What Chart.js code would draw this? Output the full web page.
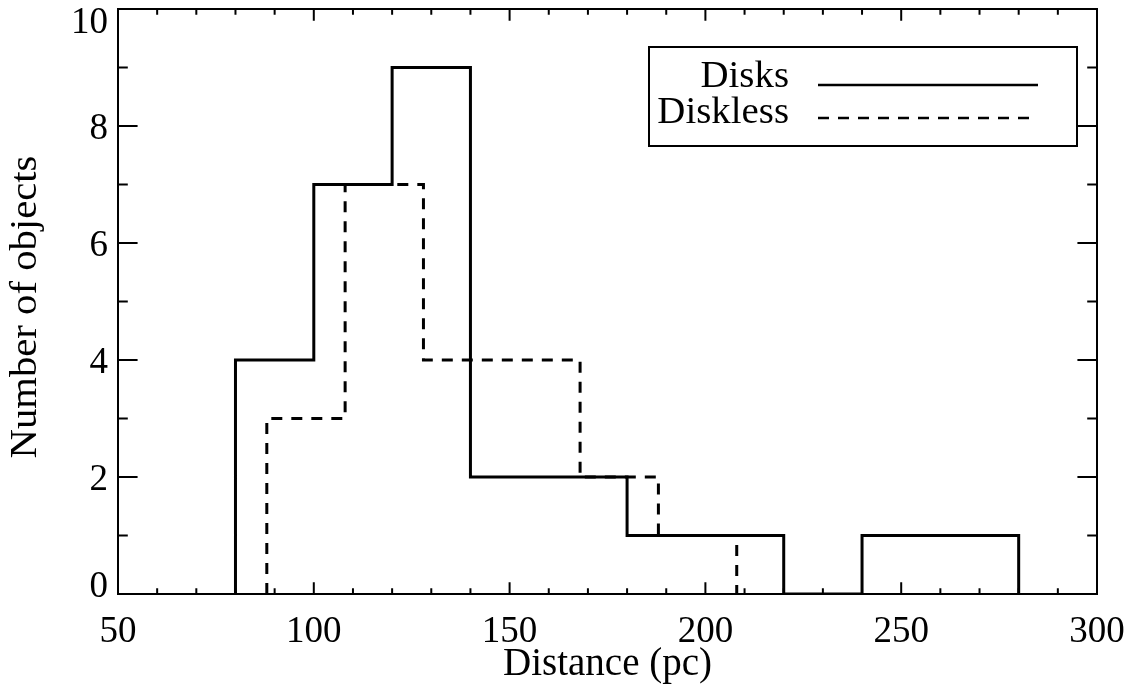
<!DOCTYPE html>
<html>
<head>
<meta charset="utf-8">
<script src="https://cdn.jsdelivr.net/npm/chart.js@4"></script>
<style>
body{margin:0;background:#fff;}
</style>
</head>
<body>
<canvas id="histChart" width="1140" height="694"></canvas>
<script>
//Data - left edge of each bin and the count in it
const binWidth = 20;
const diskEdges = [80,100,120,140,160,180,200,220,240,260];
const diskCounts = [4,7,9,2,2,1,1,0,1,1];
const disklessEdges = [88,108,128,148,168,188];
const disklessCounts = [3,7,4,4,2,1];

//Axes
const xTicks = [50,100,150,200,250,300];
const yTicks = [0,2,4,6,8,10];
const xMinorStep = 10;
const yMinorStep = 1;
const seriesNames = ['Disks','Diskless'];
const xTitle = 'Distance (pc)';
const yTitle = 'Number of objects';

const serif = "'Liberation Serif','Times New Roman',serif";

// turns bins into the outline of a histogram (stepped line)
const histPoints = (edges, counts) => {
    let pts = [{x: edges[0], y: 0}];
    for(let i=0;i<edges.length;i++){
        pts.push({x: edges[i], y: counts[i]});
    }
    pts.push({x: edges[edges.length-1]+binWidth, y: 0});
    return pts;
}

// box + inward ticks on all four sides, IDL style
const frameTicks = {
    id:'frameTicks',
    afterDatasetsDraw(chart){
        const {ctx, chartArea:a, scales} = chart;
        const x = scales.x, y = scales.y;
        const xLen = 0.02*(a.bottom-a.top);
        const yLen = 0.02*(a.right-a.left);
        ctx.save();
        ctx.strokeStyle = '#000';
        ctx.lineWidth = 2;
        ctx.strokeRect(a.left, a.top, a.right-a.left, a.bottom-a.top);
        ctx.beginPath();
        for(let v=x.min; v<=x.max; v+=xMinorStep){
            const px = x.getPixelForValue(v);
            const len = xTicks.includes(v) ? xLen : xLen/2;
            ctx.moveTo(px, a.bottom); ctx.lineTo(px, a.bottom-len);
            ctx.moveTo(px, a.top); ctx.lineTo(px, a.top+len);
        }
        for(let v=y.min; v<=y.max; v+=yMinorStep){
            const py = y.getPixelForValue(v);
            const len = yTicks.includes(v) ? yLen : yLen/2;
            ctx.moveTo(a.left, py); ctx.lineTo(a.left+len, py);
            ctx.moveTo(a.right, py); ctx.lineTo(a.right-len, py);
        }
        ctx.stroke();

        // y labels: the end ones are kept inside the frame like in IDL
        ctx.fillStyle = '#000';
        ctx.font = '37px ' + serif;
        ctx.textAlign = 'right';
        ctx.textBaseline = 'alphabetic';
        yTicks.forEach(v => {
            let py = y.getPixelForValue(v);
            py = Math.min(Math.max(py, a.top+11), a.bottom-10);
            ctx.fillText(String(v), a.left-10, py+12.5);
        });

        // y title
        ctx.translate(36, 307);
        ctx.rotate(-Math.PI/2);
        ctx.scale(1.1,1);
        ctx.textAlign = 'center';
        ctx.fillText(yTitle, 0, 0);
        ctx.restore();
    }
}

// boxed legend in the upper right: label first, then line sample
const boxLegend = {
    id:'boxLegend',
    afterDraw(chart){
        const {ctx, chartArea:a} = chart;
        const w = 428, h = 99;
        const left = a.right - 20 - w;
        const top = a.top + 38;
        ctx.save();
        ctx.strokeStyle = '#000';
        ctx.fillStyle = '#000';
        ctx.lineWidth = 2;
        ctx.strokeRect(left, top, w, h);
        const rows = [{base: 40, line: 38}, {base: 76, line: 71}];
        chart.data.datasets.forEach((ds, i) => {
            ctx.save();
            ctx.font = '37px ' + serif;
            ctx.textAlign = 'right';
            ctx.textBaseline = 'alphabetic';
            ctx.translate(left+140, top+rows[i].base);
            ctx.scale(1.05,1);
            ctx.fillText(ds.label, 0, 0);
            ctx.restore();
            ctx.beginPath();
            ctx.lineWidth = 2.5;
            ctx.setLineDash(ds.borderDash || []);
            ctx.moveTo(left+169, top+rows[i].line);
            ctx.lineTo(left+389, top+rows[i].line);
            ctx.stroke();
        });
        ctx.restore();
    }
}

const histChart = new Chart(document.querySelector('#histChart'),{
    type:'line',
    data:{
        datasets:[{
            label: seriesNames[0],
            data: histPoints(diskEdges, diskCounts),
            borderColor:'#000',
            borderWidth:3,
            stepped:'before',
            pointRadius:0,
            fill:false,
            borderJoinStyle:'miter'
        },{
            label: seriesNames[1],
            data: histPoints(disklessEdges, disklessCounts),
            borderColor:'#000',
            borderWidth:3,
            borderDash:[11,9],
            stepped:'before',
            pointRadius:0,
            fill:false,
            borderJoinStyle:'miter'
        }]
    },
    options:{
        responsive:false,
        animation:false,
        layout:{padding:{top:9, right:43, left:0, bottom:0}},
        plugins:{
            legend:{display:false},
            tooltip:{enabled:false}
        },
        scales:{
            x:{
                type:'linear',
                min:50,
                max:300,
                afterBuildTicks: s => { s.ticks = xTicks.map(v => ({value:v})); },
                afterFit: s => { s.height = 100; s.paddingLeft = 0; s.paddingRight = 0; },
                grid:{display:false, drawTicks:false},
                border:{display:false},
                ticks:{
                    color:'#000',
                    padding:16,
                    maxRotation:0,
                    font:{family:serif, size:37}
                },
                title:{
                    display:true,
                    text:xTitle,
                    color:'#000',
                    padding:{top:0, bottom:6},
                    font:{family:serif, size:39}
                }
            },
            y:{
                min:0,
                max:10,
                afterBuildTicks: s => { s.ticks = yTicks.map(v => ({value:v})); },
                afterFit: s => { s.width = 118; s.paddingTop = 0; s.paddingBottom = 0; },
                grid:{display:false, drawTicks:false},
                border:{display:false},
                ticks:{display:false}
            }
        }
    },
    plugins:[frameTicks, boxLegend]
})
</script>
</body>
</html>
